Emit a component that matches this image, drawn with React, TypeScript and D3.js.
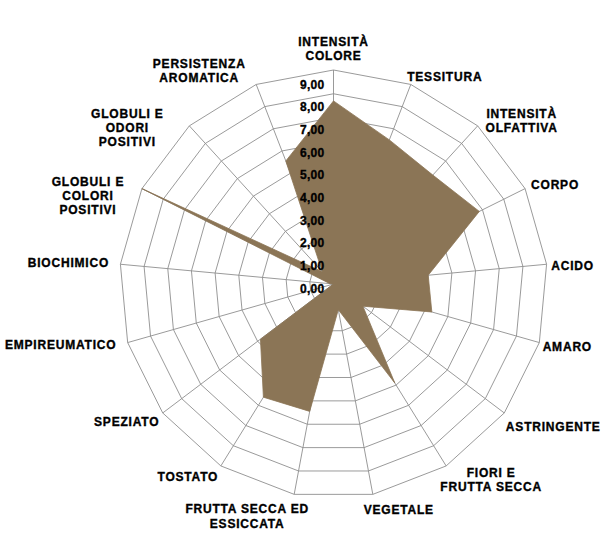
import React from 'react';
import * as d3 from 'd3';

// axes, clockwise from the top
const categories = [
  'INTENSITÀ\nCOLORE',
  'TESSITURA',
  'INTENSITÀ\nOLFATTIVA',
  'CORPO',
  'ACIDO',
  'AMARO',
  'ASTRINGENTE',
  'FIORI E\nFRUTTA SECCA',
  'VEGETALE',
  'FRUTTA SECCA ED\nESSICCATA',
  'TOSTATO',
  'SPEZIATO',
  'EMPIREUMATICO',
  'BIOCHIMICO',
  'GLOBULI E\nCOLORI\nPOSITIVI',
  'GLOBULI E\nODORI\nPOSITIVI',
  'PERSISTENZA\nAROMATICA',
];

const values = [7.7, 6.5, 6.2, 6.85, 4.0, 4.3, 1.55, 4.9, 1.1, 5.45, 5.6, 3.85, 0, 0.15, 9.0, 0.7, 5.55];

const ticks = [0, 1, 2, 3, 4, 5, 6, 7, 8, 9];

// where each label block sits, measured from the tip of its spoke
const labelNudge: [number, number][] = [
  [0, -21], [34, -8], [44, -5], [30, -4], [26, 2], [28, 4], [49, 14], [45, 14], [26, 15],
  [-47, 22], [-33, 11], [-36, 9], [-67, 2], [-52, -1], [-54, 7], [-62, 2], [-57, -14],
];

const W = 610;
const H = 550;
const cx = 333.5;
const cy = 284;
const R = 214;
const lineGap = 14.3;

export default function App() {
  const n = categories.length;
  const step = (Math.PI * 2) / n;
  const rScale = d3.scaleLinear().domain([0, 9]).range([0, R]);
  // tick labels in the original are spaced a bit tighter than the rings
  const tickY = d3.scaleLinear().domain([0, 9]).range([cy + 4.3, cy - 199.7]);

  const radial = d3
    .lineRadial<number>()
    .angle((_, i) => i * step)
    .radius((d) => rScale(d))
    .curve(d3.curveLinearClosed);

  const tip = (i: number, v: number) => {
    const a = i * step;
    return [cx + rScale(v) * Math.sin(a), cy - rScale(v) * Math.cos(a)];
  };

  const fmt = (k: number) => k.toFixed(2).replace('.', ',');

  return (
    <div style={{ position: 'absolute', left: 0, top: 0 }}>
      <svg width={W} height={H} style={{ display: 'block', background: '#fff' }}>
        <g transform={`translate(${cx},${cy})`}>
          {/* rings */}
          {ticks.slice(1).map((t) => (
            <path
              key={t}
              d={radial(categories.map(() => t)) || ''}
              fill="none"
              stroke="#8f8f8f"
              strokeWidth={0.9}
            />
          ))}
          {/* spokes */}
          {categories.map((_, i) => {
            const a = i * step;
            return (
              <line
                key={i}
                x1={0}
                y1={0}
                x2={rScale(9) * Math.sin(a)}
                y2={-rScale(9) * Math.cos(a)}
                stroke="#8f8f8f"
                strokeWidth={0.9}
              />
            );
          })}
          {/* data area */}
          <path d={radial(values) || ''} fill="#8b7556" stroke="#8b7556" strokeWidth={0.8} />
        </g>

        {/* value labels */}
        {ticks.map((k) => (
          <text
            key={k}
            x={cx - 9}
            y={tickY(k)}
            dy="0.35em"
            textAnchor="end"
            fontFamily="'Liberation Sans', Arial, sans-serif"
            fontWeight={700}
            fontSize={12}
            letterSpacing={0.3}
            fill="#000"
            stroke="#000"
            strokeWidth={0.35}
          >
            {fmt(k)}
          </text>
        ))}

        {/* category labels */}
        {categories.map((c, i) => {
          const [x0, y0] = tip(i, 9);
          const lines = c.split('\n');
          const x = x0 + labelNudge[i][0];
          const yc = y0 + labelNudge[i][1];
          const y1 = yc - ((lines.length - 1) * lineGap) / 2;
          return (
            <text
              key={i}
              textAnchor="middle"
              fontFamily="'Liberation Sans', Arial, sans-serif"
              fontWeight={700}
              fontSize={12}
              letterSpacing={0.8}
              fill="#000"
              stroke="#000"
              strokeWidth={0.35}
            >
              {lines.map((l, j) => (
                <tspan key={j} x={x} y={y1 + j * lineGap} dy="0.35em">
                  {l}
                </tspan>
              ))}
            </text>
          );
        })}
      </svg>
    </div>
  );
}
